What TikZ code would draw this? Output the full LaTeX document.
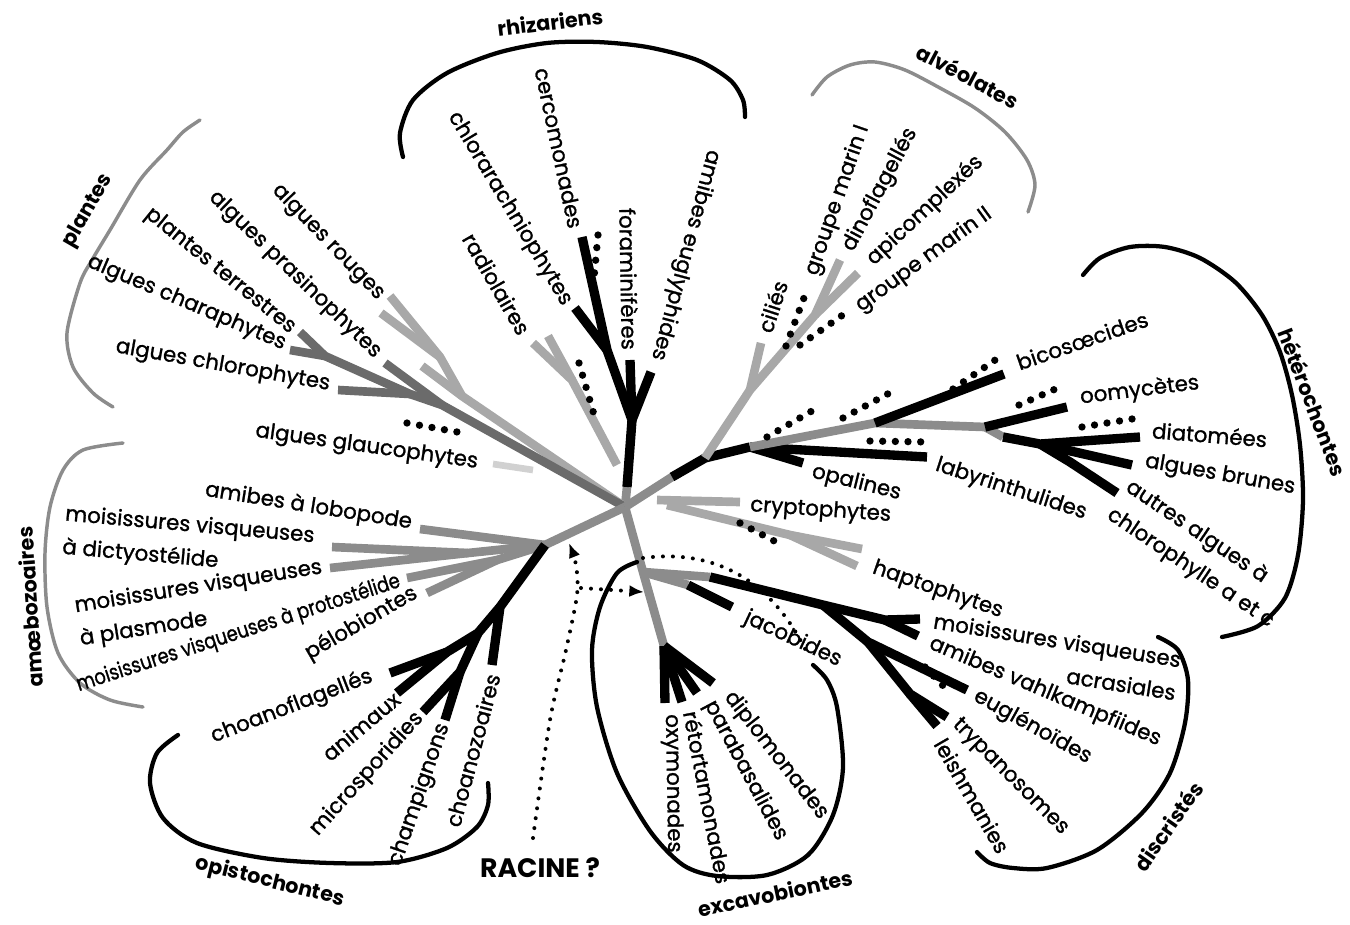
\documentclass[tikz,border=0pt]{standalone}
\usepackage{fontspec}
\setmainfont{Poppins}
\newfontfamily\lblf{Poppins}[FakeBold=1.2]
\usepackage{graphicx}
\usetikzlibrary{calc,arrows.meta}
\definecolor{gA}{gray}{0.55}
\definecolor{gB}{gray}{0.42}
\definecolor{gC}{gray}{0.66}
\definecolor{gD}{gray}{0.82}
\tikzset{
  br/.style={line width=7pt, draw=black},
  brg/.style={line width=6.5pt, draw=gA},
  brd/.style={line width=6.5pt, draw=gB},
  brl/.style={line width=6.5pt, draw=gC},
  bigdots/.style={line width=5.5pt, dash pattern=on 0pt off 9.5pt, line cap=round},
  smalldots/.style={line width=3pt, dash pattern=on 0pt off 7.5pt, line cap=round},
  lbl/.style={font=\lblf\fontsize{16}{25}\selectfont, inner sep=0pt},
  grp/.style={font=\bfseries\fontsize{15.5}{18}\selectfont, inner sep=0pt},
  brk/.style={line width=3.2pt, draw=black, line cap=round},
  brkg/.style={line width=2.6pt, draw=gA, line cap=round},
}
\begin{document}
\begin{tikzpicture}[x=0.75pt,y=-0.75pt,line join=round]
\useasboundingbox (0,0) rectangle (1350,925);
% ---------- coordinates
\coordinate (C) at (625,507);
% rhizaria
\coordinate (rz0) at (627,487);
\coordinate (rzF) at (632,420);
\coordinate (rzL) at (607,350);
\coordinate (tCer) at (582,237);
\coordinate (tChl) at (575,308);
\coordinate (tFor) at (630,360);
\coordinate (tAe) at (651,372);
\coordinate (dCa) at (598,235);
\coordinate (dCb) at (594,278);
\coordinate (rd0) at (617,465);
\coordinate (rdJ) at (572,380);
\coordinate (tRd1) at (533,343);
\coordinate (tRd2) at (548,336);
\coordinate (dRa) at (579,363);
\coordinate (dRb) at (595,418);
% plants
\coordinate (rdA) at (462,396);
\coordinate (rdB) at (440,357);
\coordinate (tRa1) at (390,296);
\coordinate (tRa2) at (381,313);
\coordinate (tRa3) at (422,366);
\coordinate (grA) at (442,405);
\coordinate (tPra) at (385,363);
\coordinate (grB) at (410,394);
\coordinate (grC) at (325,356);
\coordinate (tTer) at (300,332);
\coordinate (tCha) at (290,350);
\coordinate (tChlo) at (338,390);
\coordinate (gl1) at (493,464);
\coordinate (gl2) at (533,470);
\coordinate (dPa) at (407,423);
\coordinate (dPb) at (463,433);
% amoebozoa
\coordinate (amJ) at (545,545);
\coordinate (amK) at (468,553);
\coordinate (amL) at (497,560);
\coordinate (tLob) at (420,529);
\coordinate (tDic) at (332,547);
\coordinate (tPla) at (330,568);
\coordinate (tPro) at (407,578);
\coordinate (tPel) at (427,593);
% opisthokonts
\coordinate (op1) at (500,607);
\coordinate (op2) at (478,633);
\coordinate (op3) at (447,652);
\coordinate (op4) at (460,672);
\coordinate (tCnz) at (492,665);
\coordinate (tCnf) at (390,673);
\coordinate (tAni) at (397,693);
\coordinate (tMic) at (423,712);
\coordinate (tChp) at (445,720);
% excavates
\coordinate (ex0) at (643,572);
\coordinate (ex1) at (664,646);
\coordinate (tOxy) at (665,703);
\coordinate (tRet) at (682,702);
\coordinate (tPar) at (697,693);
\coordinate (tDip) at (713,683);
\coordinate (jk0) at (688,585);
\coordinate (tJac) at (732,607);
\coordinate (dc0) at (710,577);
\coordinate (dc1) at (823,605);
\coordinate (dc2) at (885,620);
\coordinate (tAcr) at (920,619);
\coordinate (tVah) at (918,636);
\coordinate (dc3) at (868,642);
\coordinate (tEug) at (967,690);
\coordinate (dc4) at (910,694);
\coordinate (tTry) at (947,717);
\coordinate (tLei) at (937,726);
\coordinate (dEa) at (925,667);
\coordinate (dEb) at (950,693);
% alveolates
\coordinate (hs1) at (672,477);
\coordinate (al0) at (705,458);
\coordinate (al1) at (750,390);
\coordinate (tCil) at (761,343);
\coordinate (al2) at (815,315);
\coordinate (tDin) at (840,260);
\coordinate (tApi) at (858,273);
\coordinate (dG1a) at (786,346);
\coordinate (dG1b) at (808,287);
\coordinate (dG2a) at (800,345);
\coordinate (dG2b) at (847,312);
% heterokonts
\coordinate (hk0) at (750,447);
\coordinate (hkG) at (875,423);
\coordinate (hkO) at (985,427);
\coordinate (hkF) at (1003,437);
\coordinate (hkD) at (1040,444);
\coordinate (hkA) at (1070,462);
\coordinate (tOpa) at (803,463);
\coordinate (tLab) at (927,457);
\coordinate (tBic) at (1004,374);
\coordinate (tOom) at (1067,407);
\coordinate (tDia) at (1140,437);
\coordinate (tBru) at (1132,465);
\coordinate (tAut) at (1117,493);
\coordinate (dBa) at (953,389);
\coordinate (dBb) at (1001,356);
\coordinate (dOa) at (1019,405);
\coordinate (dOb) at (1060,387);
\coordinate (dDa) at (1082,427);
\coordinate (dDb) at (1138,418);
\coordinate (dLa) at (870,441);
\coordinate (dLb) at (927,442);
\coordinate (dUa) at (767,437);
\coordinate (dUb) at (817,408);
\coordinate (dVa) at (843,418);
\coordinate (dVb) at (895,390);
% crypto / hapto
\coordinate (cr0) at (657,500);
\coordinate (tCry) at (740,502);
\coordinate (hp0) at (667,505);
\coordinate (hpJ) at (790,535);
\coordinate (tHa1) at (862,549);
\coordinate (tHa2) at (857,566);
\coordinate (dKa) at (740,523);
\coordinate (dKb) at (778,543);
% root
\coordinate (rA) at (533,838);
\coordinate (rB) at (569,543);
\coordinate (rC) at (581,588);
\coordinate (rD) at (644,592);
\coordinate (q0) at (643,558);
\coordinate (q1) at (808,655);

% ---------- branches
% rhizaria
\draw[brg] (C) -- (rz0);
\draw[br] (rz0) -- (rzF) -- (rzL) -- (tCer);
\draw[br] (rzL) -- (tChl);
\draw[br] (rzF) -- (tFor);
\draw[br] (rzF) -- (tAe);
\draw[bigdots] (dCa) -- (dCb);
\draw[brl] (rd0) -- (rdJ) -- (tRd1);
\draw[brl] (rdJ) -- (tRd2);
\draw[bigdots] (dRa) -- (dRb);
% plants
\draw[brl] (C) -- (rdA) -- (rdB) -- (tRa1);
\draw[brl] (rdB) -- (tRa2);
\draw[brl] (rdA) -- (tRa3);
\draw[brd] (C) -- (grA) -- (grB) -- (grC) -- (tTer);
\draw[brd] (grC) -- (tCha);
\draw[brd] (grB) -- (tChlo);
\draw[brd] (grA) -- (tPra);
\draw[line width=5pt, draw=gD] (gl1) -- (gl2);
\draw[bigdots] (dPa) -- (dPb);
% amoebozoa
\draw[brg] (C) -- (amJ) -- (amK) -- (tDic);
\draw[brg] (amK) -- (tPla);
\draw[brg] (amJ) -- (tLob);
\draw[brg] (amJ) -- (amL) -- (tPro);
\draw[brg] (amL) -- (tPel);
% opisthokonts
\draw[br] (amJ) -- (op1) -- (tCnz);
\draw[br] (op1) -- (op2) -- (op3) -- (tCnf);
\draw[br] (op3) -- (tAni);
\draw[br] (op2) -- (op4) -- (tMic);
\draw[br] (op4) -- (tChp);
% excavates
\draw[brg] (C) -- (ex0) -- (ex1);
\foreach \t in {tOxy,tRet,tPar,tDip} \draw[br] (ex1) -- (\t);
\draw[brg] (ex0) -- (jk0);
\draw[br] (jk0) -- (tJac);
\draw[brg] (ex0) -- (dc0);
\draw[br] (dc0) -- (dc1) -- (dc2) -- (tAcr);
\draw[br] (dc2) -- (tVah);
\draw[br] (dc1) -- (dc3) -- (tEug);
\draw[br] (dc3) -- (dc4) -- (tTry);
\draw[br] (dc4) -- (tLei);
\draw[bigdots] (dEa) -- (dEb);
% alveolates / heterokonts
\draw[brg] (C) -- (hs1);
\draw[br] (hs1) -- (al0) -- (hk0);
\draw[brl] (al0) -- (al1) -- (al2) -- (tDin);
\draw[brl] (al2) -- (tApi);
\draw[brl] (al1) -- (tCil);
\draw[bigdots] (dG1a) -- (dG1b);
\draw[bigdots] (dG2a) -- (dG2b);
\draw[br] (hk0) -- (tOpa);
\draw[br] (hk0) -- (tLab);
\draw[brg] (hk0) -- (hkG) -- (hkO) -- (hkF);
\draw[br] (hkG) -- (tBic);
\draw[br] (hkO) -- (tOom);
\draw[br] (hkF) -- (hkD) -- (tDia);
\draw[br] (hkD) -- (tBru);
\draw[br] (hkD) -- (hkA) -- (tAut);
\foreach \a/\b in {dBa/dBb,dOa/dOb,dDa/dDb,dLa/dLb,dUa/dUb,dVa/dVb} \draw[bigdots] (\a) -- (\b);
% crypto / hapto
\draw[brl] (cr0) -- (tCry);
\draw[brl] (hp0) -- (hpJ) -- (tHa1);
\draw[brl] (hpJ) -- (tHa2);
\draw[bigdots] (dKa) -- (dKb);
% root arrows
\draw[smalldots,-{Latex[length=11pt,width=9pt]}] plot[smooth] coordinates {(rA) (550,720) (566,650) (577,595) (576,565) (rB)};
\draw[smalldots,-{Latex[length=11pt,width=9pt]}] (rC) -- (rD);
\draw[smalldots] (q0) .. controls (720,548) and (775,585) .. (q1);

% ---------- brackets
\draw[brk] plot[smooth] coordinates {(403,157) (400,133) (413,100) (447,73) (497,53) (547,43) (597,42) (647,47) (697,60) (730,80) (743,100) (745,117)};
\draw[brkg] plot[smooth] coordinates {(812,95) (827,77) (850,65) (875,62) (905,70) (940,88) (975,108) (1005,132) (1027,160) (1035,185) (1028,212)};
\draw[brkg] plot[smooth] coordinates {(200,120) (183,132) (167,150) (140,180) (110,230) (92,260) (80,283) (67,333) (73,367) (93,393) (113,407)};
\draw[brkg] plot[smooth] coordinates {(123,443) (83,450) (63,470) (50,507) (45,553) (47,607) (58,653) (80,683) (110,700) (143,707)};
\draw[brk] plot[smooth] coordinates {(178,735) (157,753) (150,783) (163,818) (197,843) (263,858) (330,863) (397,862) (447,848) (477,827) (488,805) (488,783)};
\draw[brk] plot[smooth] coordinates {(637,562) (617,573) (600,607) (592,650) (597,707) (617,773) (650,831) (683,865) (717,876) (767,875) (808,855) (833,815) (843,767) (837,707) (827,680) (813,665)};
\draw[brk] plot[smooth] coordinates {(977,852) (990,863) (1013,868) (1047,868) (1097,850) (1142,813) (1170,773) (1185,723) (1188,680) (1178,650) (1158,637)};
\draw[brk] plot[smooth] coordinates {(1083,275) (1100,258) (1130,247) (1165,247) (1200,258) (1235,282) (1262,315) (1280,352) (1292,395) (1300,445) (1303,500) (1298,555) (1285,598) (1258,626) (1222,637)};

% ---------- labels
\node[lbl,rotate=-78,anchor=east] (lCer) at (576,228) {cercomonades};
\node[lbl,rotate=-59,anchor=east] (lChl) at (567,304) {chlorarachniophytes};
\node[lbl,rotate=-89,anchor=east] (lFor) at (630,350) {foraminifères};
\node[lbl,rotate=-105,anchor=east] (lAe) at (657,360) {amibes euglyphides};
\node[lbl,rotate=-60,anchor=east] (lRad) at (525,333) {radiolaires};
\node[lbl,rotate=-46,anchor=east] (lRou) at (381,297) {algues rouges};
\node[lbl,rotate=-44,anchor=east] (lPra) at (378,355) {algues prasinophytes};
\node[lbl,rotate=-39,anchor=east] (lTer) at (293,330) {plantes terrestres};
\node[lbl,rotate=-23,anchor=east] (lCha) at (285,345) {algues charaphytes};
\node[lbl,rotate=-10,anchor=east] (lChlo) at (330,385) {algues chlorophytes};
\node[lbl,rotate=-8,anchor=east] (lGla) at (478,463) {algues glaucophytes};
\node[lbl,rotate=-9,anchor=east] (lLob) at (412,523) {amibes à lobopode};
\node[lbl,rotate=-5,anchor=north west,align=left] (lDic) at (66,504) {moisissures visqueuses\\à dictyostélide};
\node[lbl,rotate=9,anchor=north west,align=left] (lPla) at (73,596) {moisissures visqueuses\\à plasmode};
\node[lbl,rotate=18,anchor=west] (lPro) at (77,686) {\scalebox{0.84}[1]{moisissures visqueuses à protostélide}};
\node[lbl,rotate=30,anchor=east] (lPel) at (416,592) {pélobiontes};
\node[lbl,rotate=21,anchor=east] (lCnf) at (372,676) {choanoflagellés};
\node[lbl,rotate=40,anchor=east] (lAni) at (397,696) {animaux};
\node[lbl,rotate=48,anchor=east] (lMic) at (420,715) {microsporidies};
\node[lbl,rotate=71,anchor=east] (lChp) at (444,724) {champignons};
\node[lbl,rotate=75,anchor=east] (lCnz) at (493,674) {choanozoaires};
\node[lbl,rotate=-89,anchor=west] (lOxy) at (671,714) {oxymonades};
\node[lbl,rotate=-79,anchor=west] (lRet) at (691,711) {rétortamonades};
\node[lbl,rotate=-62,anchor=west] (lPar) at (709,702) {parabasalides};
\node[lbl,rotate=-52,anchor=west] (lDip) at (728,694) {diplomonades};
\node[lbl,rotate=-25,anchor=west] (lJac) at (745,617) {jacobides};
\node[lbl,rotate=-9,anchor=north west,align=right] (lAcr) at (935,612) {moisissures visqueuses\\acrasiales};
\node[lbl,rotate=-23,anchor=west] (lVah) at (930,643) {amibes vahlkampfiides};
\node[lbl,rotate=-29,anchor=west] (lEug) at (975,695) {euglénoïdes};
\node[lbl,rotate=-45,anchor=west] (lTry) at (955,722) {trypanosomes};
\node[lbl,rotate=-60,anchor=west] (lLei) at (940,740) {leishmanies};
\node[lbl,rotate=-4,anchor=west] (lCry) at (750,506) {cryptophytes};
\node[lbl,rotate=-19,anchor=west] (lHap) at (873,568) {haptophytes};
\node[lbl,rotate=-14,anchor=west] (lOpa) at (812,472) {opalines};
\node[lbl,rotate=-18,anchor=west] (lLab) at (936,465) {labyrinthulides};
\node[lbl,rotate=19,anchor=west] (lBic) at (1017,363) {bicosœcides};
\node[lbl,rotate=7,anchor=west] (lOom) at (1080,398) {oomycètes};
\node[lbl,rotate=-4.5,anchor=west] (lDia) at (1152,430) {diatomées};
\node[lbl,rotate=-10,anchor=west] (lBru) at (1145,462) {algues brunes};
\node[lbl,rotate=-34,anchor=north west,align=left] (lAut) at (1134,476) {autres algues à\\chlorophylle a et c};
\node[lbl,rotate=72,anchor=west] (lCil) at (764,332) {ciliés};
\node[lbl,rotate=71,anchor=west] (lGm1) at (812,275) {groupe marin I};
\node[lbl,rotate=62,anchor=west] (lDin) at (848,250) {dinoflagellés};
\node[lbl,rotate=43,anchor=west] (lApi) at (870,262) {apicomplexés};
\node[lbl,rotate=36,anchor=west] (lGm2) at (858,308) {groupe marin II};
% group labels
\node[grp,rotate=7] (gRhi) at (550,22) {rhizariens};
\node[grp,rotate=-28] (gAlv) at (968,76) {alvéolates};
\node[grp,rotate=60] (gPla) at (88,211) {plantes};
\node[grp,rotate=94] (gAmo) at (30,607) {amœbozoaires};
\node[grp,rotate=-14] (gOpi) at (270,882) {opistochontes};
\node[grp,rotate=12] (gExc) at (775,893) {excavobiontes};
\node[grp,rotate=55] (gDis) at (1168,826) {discristés};
\node[grp,rotate=-69] (gHet) at (1313,402) {hétérochontes};
\node[font=\bfseries\fontsize{20}{22}\selectfont, inner sep=0pt] (root) at (540,868) {RACINE ?};
\end{tikzpicture}
\end{document}
